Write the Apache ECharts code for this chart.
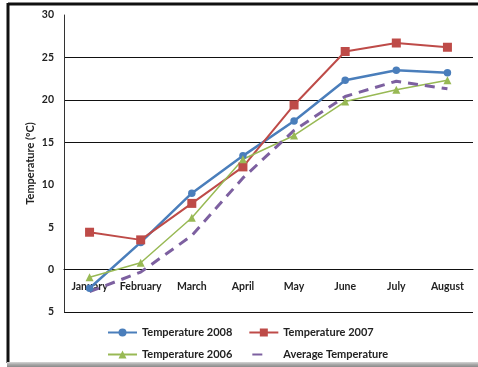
<!DOCTYPE html>
<html>
<head>
<meta charset="utf-8">
<script src="https://cdn.jsdelivr.net/npm/echarts@6/dist/echarts.min.js"></script>
<style>
  html, body { margin: 0; padding: 0; background: #fff; }
  #chart { width: 478px; height: 367px; }
</style>
</head>
<body>
<div id="chart"></div>
<script>
// Monthly temperatures (°C)
var months = ['January', 'February', 'March', 'April', 'May', 'June', 'July', 'August'];
var temp2008 = [-2.2, 3.2, 9.0, 13.4, 17.5, 22.3, 23.5, 23.2];
var temp2007 = [4.4, 3.5, 7.8, 12.1, 19.4, 25.7, 26.7, 26.2];
var temp2006 = [-0.9, 0.8, 6.1, 13.0, 15.8, 19.8, 21.2, 22.3];
var tempAvg  = [-2.6, -0.3, 4.0, 10.8, 16.4, 20.4, 22.2, 21.3];

// Y tick labels from -5 to 30, as printed
var yTickLabels = ['5', '0', '5', '10', '15', '20', '25', '30'];

var FONT = 'Lato';
var TEXT = '#222';
var Y_MIN = -5, Y_MAX = 30;
var GRID_TOP = 15, GRID_BOTTOM = 55, HEIGHT = 367;

// vertical distance between the bottom of the plot and the zero line
var plotH = HEIGHT - GRID_TOP - GRID_BOTTOM;
var zeroOffset = plotH * (0 - Y_MIN) / (Y_MAX - Y_MIN);

var chart = echarts.init(document.getElementById('chart'), null, { renderer: 'canvas' });

var legendText = { color: TEXT, fontFamily: FONT, fontSize: 11, fontWeight: 'bold' };

chart.setOption({
  animation: false,
  backgroundColor: '#fff',
  grid: { left: 64, right: 5, top: GRID_TOP, bottom: GRID_BOTTOM, containLabel: false },
  xAxis: {
    type: 'category',
    data: months,
    boundaryGap: true,
    offset: -zeroOffset,
    axisLine: { onZero: false, lineStyle: { color: '#111', width: 1 } },
    axisTick: { show: false },
    axisLabel: { interval: 0, margin: 12, color: TEXT, fontFamily: FONT, fontSize: 10.5, fontWeight: 'bold' },
    splitLine: { show: false }
  },
  yAxis: {
    type: 'value',
    min: Y_MIN,
    max: Y_MAX,
    interval: 5,
    name: 'Temperature (ºC)',
    nameLocation: 'middle',
    nameGap: 28,
    nameMoveOverlap: false,
    nameRotate: 90,
    nameTextStyle: { color: TEXT, fontFamily: FONT, fontSize: 11, fontWeight: 'bold' },
    axisLine: { show: true, lineStyle: { color: '#333', width: 1 } },
    axisTick: { show: false },
    axisLabel: {
      margin: 10, color: TEXT, fontFamily: FONT, fontSize: 10.5, fontWeight: 'bold',
      formatter: function (v) { return yTickLabels[Math.round((v - Y_MIN) / 5)]; }
    },
    splitLine: {
      show: true,
      lineStyle: {
        width: 1,
        // lines at -5, 0, 5, 10, 15, 20, 25, 30
        color: ['#111', 'transparent', 'transparent', 'transparent', '#111', '#111', '#111', 'transparent']
      }
    }
  },
  legend: [
    {
      data: ['Temperature 2008', 'Temperature 2007'],
      left: 107, top: 327, padding: 0,
      itemWidth: 29, itemHeight: 10, itemGap: 16,
      textStyle: legendText
    },
    {
      data: [
        'Temperature 2006',
        {
          name: 'Average Temperature',
          itemStyle: { opacity: 0 },
          lineStyle: { type: [10, 30], dashOffset: -3 }
        }
      ],
      left: 107, top: 349, padding: 0,
      itemWidth: 29, itemHeight: 10, itemGap: 16,
      textStyle: legendText
    }
  ],
  graphic: [
    // frame around the chart
    { type: 'line', shape: { x1: 8, y1: 4, x2: 478, y2: 4 }, style: { stroke: '#111', lineWidth: 3 }, silent: true },
    { type: 'line', shape: { x1: 8, y1: 3, x2: 8, y2: 363 }, style: { stroke: '#111', lineWidth: 3 }, silent: true },
    {
      type: 'rect', shape: { x: 7, y: 362, width: 471, height: 5 }, silent: true,
      style: {
        fill: new echarts.graphic.LinearGradient(0, 0, 0, 1, [
          { offset: 0, color: '#d6d6d6' }, { offset: 0.5, color: '#a8a8a8' }, { offset: 1, color: '#8a8a8a' }
        ])
      }
    }
  ],
  series: [
    {
      name: 'Temperature 2008', type: 'line', data: temp2008,
      symbol: 'circle', symbolSize: 7.5,
      lineStyle: { color: '#4A7EBB', width: 2.5 },
      itemStyle: { color: '#4A7EBB' }
    },
    {
      name: 'Temperature 2007', type: 'line', data: temp2007,
      symbol: 'rect', symbolSize: 9,
      lineStyle: { color: '#BE4B48', width: 2 },
      itemStyle: { color: '#BE4B48' }
    },
    {
      name: 'Temperature 2006', type: 'line', data: temp2006,
      symbol: 'triangle', symbolSize: 8,
      lineStyle: { color: '#98B954', width: 1.5 },
      itemStyle: { color: '#98B954' }
    },
    {
      name: 'Average Temperature', type: 'line', data: tempAvg,
      symbol: 'none',
      lineStyle: { color: '#7D60A0', width: 3, type: [10, 7] },
      itemStyle: { color: '#7D60A0' }
    }
  ]
});
</script>
</body>
</html>
